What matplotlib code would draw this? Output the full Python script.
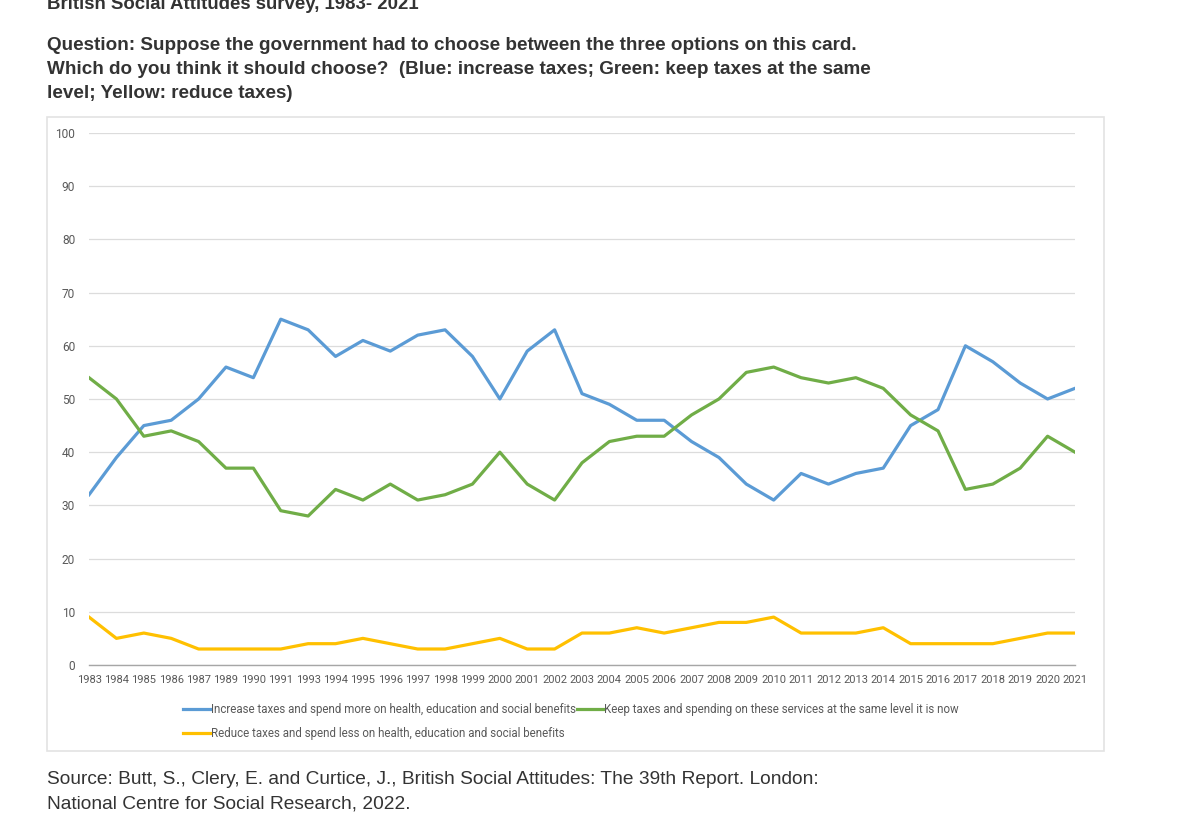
import matplotlib
matplotlib.use("Agg")
import matplotlib.pyplot as plt
from matplotlib.patches import Rectangle

# data
years = ["1983", "1984", "1985", "1986", "1987", "1989", "1990", "1991", "1993", "1994",
         "1995", "1996", "1997", "1998", "1999", "2000", "2001", "2002", "2003", "2004",
         "2005", "2006", "2007", "2008", "2009", "2010", "2011", "2012", "2013", "2014",
         "2015", "2016", "2017", "2018", "2019", "2020", "2021"]
increase = [32, 39, 45, 46, 50, 56, 54, 65, 63, 58, 61, 59, 62, 63, 58, 50, 59, 63, 51, 49,
            46, 46, 42, 39, 34, 31, 36, 34, 36, 37, 45, 48, 60, 57, 53, 50, 52]
keep = [54, 50, 43, 44, 42, 37, 37, 29, 28, 33, 31, 34, 31, 32, 34, 40, 34, 31, 38, 42,
        43, 43, 47, 50, 55, 56, 54, 53, 54, 52, 47, 44, 33, 34, 37, 43, 40]
reduce_ = [9, 5, 6, 5, 3, 3, 3, 3, 4, 4, 5, 4, 3, 3, 4, 5, 3, 3, 6, 6,
           7, 6, 7, 8, 8, 9, 6, 6, 6, 7, 4, 4, 4, 4, 5, 6, 6]
labels = ["Increase taxes and spend more on health, education and social benefits",
          "Keep taxes and spending on these services at the same level it is now",
          "Reduce taxes and spend less on health, education and social benefits"]
yticks = list(range(0, 101, 10))

BLUE, GREEN, YELLOW = "#5B9BD5", "#70AD47", "#FFC000"

fig = plt.figure(figsize=(12, 8.24), dpi=100)
fig.patch.set_facecolor("white")

# chart frame, like the Excel chart area (kept behind the axes)
fig.patches.append(Rectangle((0.0392, 0.0886), 0.881, 0.7694, transform=fig.transFigure,
                             facecolor="white", edgecolor="#e3e3e3", linewidth=1.2, zorder=-5))

ax = fig.add_axes([0.0742, 0.1930, 0.8216, 0.6456])
ax.set_facecolor("none")
x = list(range(len(years)))
l1, = ax.plot(x, increase, color=BLUE, lw=2.3, solid_joinstyle="round", label=labels[0])
l2, = ax.plot(x, keep, color=GREEN, lw=2.3, solid_joinstyle="round", label=labels[1])
l3, = ax.plot(x, reduce_, color=YELLOW, lw=2.3, solid_joinstyle="round", label=labels[2])

ax.set_xlim(0, len(years) - 1)
ax.set_ylim(0, 100)
ax.set_yticks(yticks)
ax.set_xticks(x)
ax.set_xticklabels(years)
ax.grid(axis="y", color="#dcdcdc", lw=0.9)
ax.set_axisbelow(True)
for s in ["top", "right", "left"]:
    ax.spines[s].set_visible(False)
ax.spines["bottom"].set_color("#a6a6a6")
ax.spines["bottom"].set_linewidth(1.0)
ax.tick_params(axis="both", length=0, colors="#595959", labelsize=8)
ax.tick_params(axis="y", pad=10, labelsize=8.6)
ax.tick_params(axis="x", pad=7)
for t in ax.get_xticklabels() + ax.get_yticklabels():
    t.set_fontfamily("Roboto")

leg = fig.legend([l1, l3, l2], [labels[0], labels[2], labels[1]], ncol=2,
                 loc="center", bbox_to_anchor=(0.476, 0.1244), frameon=False,
                 handlelength=2.3, handletextpad=0.05, columnspacing=0.15,
                 labelspacing=1.0, prop={"family": "Roboto", "size": 8.3})
for t in leg.get_texts():
    t.set_color("#595959")

# header and source text
fig.text(0.0392, 0.994, "British Social Attitudes survey, 1983- 2021", fontsize=13.4,
         fontweight="bold", family="Liberation Sans", color="#333333", va="center")
q = ["Question: Suppose the government had to choose between the three options on this card.",
     "Which do you think it should choose?  (Blue: increase taxes; Green: keep taxes at the same",
     "level; Yellow: reduce taxes)"]
for i, line in enumerate(q):
    fig.text(0.0392, 1 - (45 + 24.5 * i) / 824, line, fontsize=13.6, fontweight="bold",
             family="Liberation Sans", color="#333333", va="center")
src = ["Source: Butt, S., Clery, E. and Curtice, J., British Social Attitudes: The 39th Report. London:",
       "National Centre for Social Research, 2022."]
for i, line in enumerate(src):
    fig.text(0.0392, 1 - (780 + 24 * i) / 824, line, fontsize=13.8,
             family="Liberation Sans", color="#333333", va="center")

fig.savefig("out.png", dpi=100)
